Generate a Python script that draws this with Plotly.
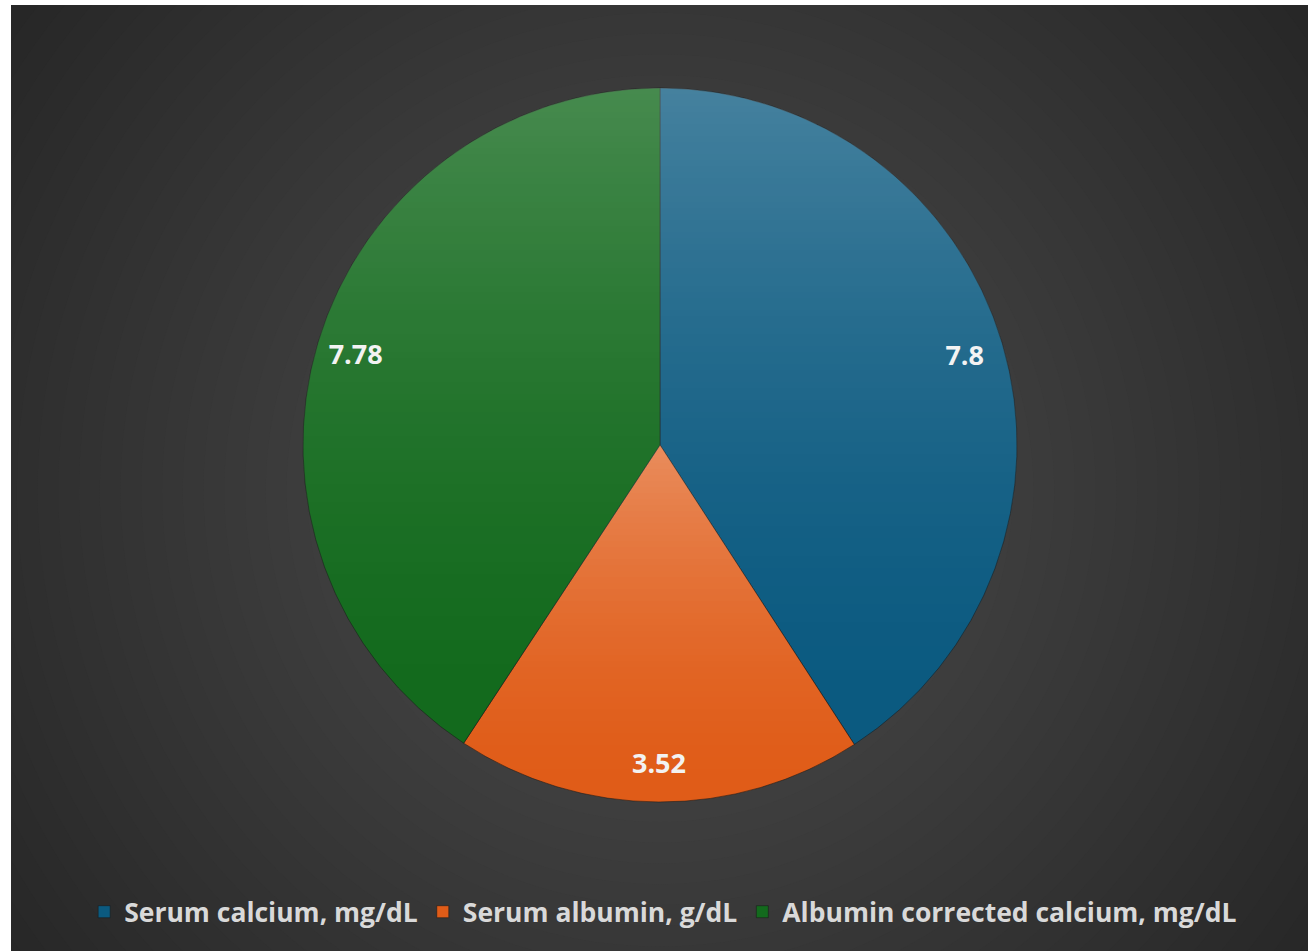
import math
import plotly.graph_objects as go

# ---- data ----
labels = ["Serum calcium, mg/dL", "Serum albumin, g/dL", "Albumin corrected calcium, mg/dL"]
values = [7.8, 3.52, 7.78]
colors = ["#0b5a80", "#e05c18", "#136a1d"]
top_light = [0.24, 0.30, 0.22]   # strength of the light gradient at slice top

W, H = 1308, 951
CX, CY, R = 660, 445, 357        # pie centre / radius in pixels


def px(x):
    return x / W


def py(y):
    return 1 - y / H


shapes = []
# background: radial gradient made of nested opaque circles
BCX, BCY = 660, 490
RMAX = 830
c_out, c_in = 38, 78
NB = c_in - c_out
shapes.append(dict(type="rect", xref="paper", yref="paper", x0=0, x1=1, y0=0, y1=1,
                   fillcolor="#262626", line=dict(width=0), layer="below"))
for k in range(NB, 0, -1):
    r = RMAX * k / NB
    lv = round(c_out + (c_in - c_out) * (1 - k / NB))
    shapes.append(dict(type="circle", xref="paper", yref="paper",
                       x0=px(BCX - r), x1=px(BCX + r), y0=py(BCY + r), y1=py(BCY - r),
                       fillcolor=f"rgb({lv},{lv},{lv})", line=dict(width=0), layer="below"))
# white strips at left / top edge
shapes.append(dict(type="rect", xref="paper", yref="paper", x0=0, x1=px(11), y0=0, y1=1,
                   fillcolor="white", line=dict(width=0), layer="below"))
shapes.append(dict(type="rect", xref="paper", yref="paper", x0=0, x1=1, y0=py(5), y1=1,
                   fillcolor="white", line=dict(width=0), layer="below"))


def clip(poly, y0, y1):
    """part of a convex polygon with y0 <= y <= y1 (pixel coords)"""
    def half(pl, inside, inter):
        out = []
        n = len(pl)
        for i in range(n):
            p, q = pl[i], pl[(i + 1) % n]
            if inside(p):
                out.append(p)
            if inside(p) != inside(q):
                out.append(inter(p, q))
        return out

    def ix(yk):
        return lambda p, q: (p[0] + (yk - p[1]) / (q[1] - p[1]) * (q[0] - p[0]), yk)

    pl = half(poly, lambda p: p[1] <= y1, ix(y1))
    if len(pl) < 3:
        return []
    return half(pl, lambda p: p[1] >= y0, ix(y0))


# per-slice vertical light gradient overlay (derived from slice values)
total = sum(values)
start = 0.0
BAND = 6
for v, a0 in zip(values, top_light):
    f0, f1 = start / total, (start + v) / total
    start += v
    ph0, ph1 = f0 * 2 * math.pi, f1 * 2 * math.pi
    nseg = max(8, int((ph1 - ph0) / (2 * math.pi) * 360))
    poly = [(CX, CY)]
    for i in range(nseg + 1):
        ph = ph0 + (ph1 - ph0) * i / nseg
        poly.append((CX + R * math.sin(ph), CY - R * math.cos(ph)))
    ty = math.floor(min(p[1] for p in poly))
    by = math.ceil(max(p[1] for p in poly))
    y = ty
    while y < by:
        y2 = min(y + BAND, by)
        f = ((y + y2) / 2 - ty) / (by - ty)
        a = a0 * (1 - f) ** 1.7
        cp = clip(poly, y, y2)
        if len(cp) >= 3 and a > 0.002:
            path = "M" + "L".join(f"{px(xx):.6f},{py(yy):.6f}" for xx, yy in cp) + "Z"
            shapes.append(dict(type="path", xref="paper", yref="paper", path=path,
                               fillcolor=f"rgba(255,255,255,{a:.4f})", line=dict(width=0),
                               layer="above"))
        y = y2

domain = dict(x=[px(CX - R), px(CX + R)], y=[py(CY + R), py(CY - R)])

fig = go.Figure()
fig.add_trace(go.Pie(
    labels=labels, values=values, sort=False, direction="clockwise", rotation=0,
    marker=dict(colors=colors, line=dict(color="rgba(25,25,25,0.55)", width=1)),
    textinfo="none", hoverinfo="label+value", domain=domain,
))
fig.add_trace(go.Pie(
    labels=labels, values=values, sort=False, direction="clockwise", rotation=0, hole=0.78,
    marker=dict(colors=["rgba(0,0,0,0)"] * 3, line=dict(width=0)),
    textinfo="value", textposition="inside", insidetextorientation="horizontal",
    textfont=dict(family="Open Sans", size=27, color="#f2f2f2", weight="bold"),
    showlegend=False, hoverinfo="skip", domain=domain,
))

fig.update_layout(
    width=W, height=H,
    margin=dict(l=0, r=0, t=0, b=0),
    paper_bgcolor="white",
    shapes=shapes,
    showlegend=True,
    legend=dict(orientation="h", x=0.507, xanchor="center", y=py(912), yanchor="middle",
                font=dict(family="Open Sans", size=26.5, color="#d9d9d9", weight="bold"),
                bgcolor="rgba(0,0,0,0)", traceorder="normal", itemclick=False),
)

fig.write_html("out.html")
